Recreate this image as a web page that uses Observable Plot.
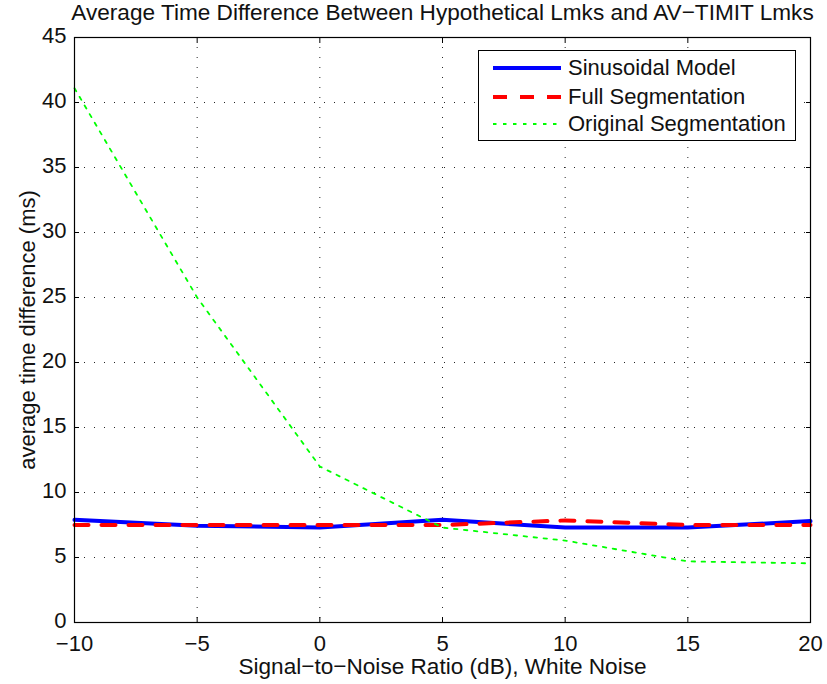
<!DOCTYPE html>
<html><head><meta charset="utf-8">
<script src="https://cdn.jsdelivr.net/npm/d3@7"></script>
<script src="https://cdn.jsdelivr.net/npm/@observablehq/plot@0.6"></script>
<style>
body{margin:0;background:#fff;}
#wrap{position:relative;width:827px;height:684px;font-family:"Liberation Sans",Arial,Helvetica,sans-serif;}
#legend{position:absolute;left:478px;top:50px;width:316px;height:89px;border:1px solid #000;background:#fff;font-size:22px;color:#111;}
#legend .row{position:absolute;left:0;height:26px;display:flex;align-items:center;}
#legend svg{display:block;}
#legend span{margin-left:7px;white-space:nowrap;}
</style></head><body><div id="wrap"></div>
<script>
const snr = [-10, -5, 0, 5, 10, 15, 20];
const sinusoidal = [7.9, 7.45, 7.3, 7.9, 7.3, 7.3, 7.8];
const fullSeg = [7.5, 7.5, 7.5, 7.5, 7.85, 7.5, 7.5];
const origSeg = [41.1, 25.0, 12.0, 7.3, 6.3, 4.7, 4.55];
const xTicks = [-10, -5, 0, 5, 10, 15, 20];
const yTicks = [0, 5, 10, 15, 20, 25, 30, 35, 40, 45];
const seriesNames = ["Sinusoidal Model", "Full Segmentation", "Original Segmentation"];
const seriesColors = ["#0000ff", "#ff0000", "#00ff00"];
const seriesWidths = [4, 4, 1.8];
const seriesDash = [null, "14,13", "3.5,6.5"];
const titleText = "Average Time Difference Between Hypothetical Lmks and AV\u2212TIMIT Lmks";
const xLabel = "Signal\u2212to\u2212Noise Ratio (dB), White Noise";
const yLabel = "average time difference (ms)";

const seriesValues = [sinusoidal, fullSeg, origSeg];
const FS = 22;

const lineMarks = seriesValues.map((vals, k) =>
  Plot.line(snr.map((x, i) => ({x, y: vals[i]})), {
    x: "x", y: "y", stroke: seriesColors[k], strokeWidth: seriesWidths[k],
    strokeDasharray: seriesDash[k], strokeLinejoin: "round"
  })
);

const plot = Plot.plot({
  width: 827, height: 684,
  marginLeft: 74, marginRight: 17, marginTop: 37, marginBottom: 62,
  style: {fontFamily: '"Liberation Sans", Arial, Helvetica, sans-serif', background: "#fff", color: "#000"},
  x: {domain: [-10, 20], ticks: xTicks},
  y: {domain: [0, 45], ticks: yTicks},
  marks: [
    Plot.gridX(xTicks, {stroke: "#000", strokeOpacity: 0.85, strokeDasharray: "1,9"}),
    Plot.gridY(yTicks, {stroke: "#000", strokeOpacity: 0.85, strokeDasharray: "1,9"}),
    // inward ticks on all four sides
    Plot.axisX(xTicks, {anchor: "bottom", tickSize: 5, dy: -5, tickFormat: () => "", label: null}),
    Plot.axisX(xTicks, {anchor: "top", tickSize: 5, dy: 5, tickFormat: () => "", label: null}),
    Plot.axisY(yTicks, {anchor: "left", tickSize: 5, dx: 5, tickFormat: () => "", label: null}),
    Plot.axisY(yTicks, {anchor: "right", tickSize: 5, dx: -5, tickFormat: () => "", label: null}),
    // tick labels
    Plot.axisX(xTicks, {anchor: "bottom", tickSize: 0, tickPadding: 13, fontSize: FS, label: null, fill: "#111"}),
    Plot.axisY(yTicks, {anchor: "left", tickSize: 0, tickPadding: 8, dy: -2, fontSize: FS, label: null, fill: "#111"}),
    ...lineMarks,
    Plot.frame({stroke: "#000", strokeWidth: 1.2}),
    Plot.text([titleText], {text: d => d, frameAnchor: "top", lineAnchor: "middle", dy: -25, fontSize: 22.6, fill: "#111"}),
    Plot.text([xLabel], {text: d => d, frameAnchor: "bottom", lineAnchor: "middle", dy: 44, fontSize: 22.6, fill: "#111"}),
    Plot.text([yLabel], {text: d => d, frameAnchor: "left", textAnchor: "middle", lineAnchor: "middle", dx: -47, rotate: -90, fontSize: FS, fill: "#111"})
  ]
});

const wrap = document.getElementById("wrap");
wrap.appendChild(plot);

const legend = document.createElement("div");
legend.id = "legend";
const rowTops = [4, 33, 60];
seriesNames.forEach((name, k) => {
  const row = document.createElement("div");
  row.className = "row";
  row.style.top = rowTops[k] + "px";
  const ns = "http://www.w3.org/2000/svg";
  const svg = document.createElementNS(ns, "svg");
  svg.setAttribute("width", 82); svg.setAttribute("height", 26);
  const ln = document.createElementNS(ns, "line");
  ln.setAttribute("x1", 14); ln.setAttribute("x2", 82);
  ln.setAttribute("y1", 13); ln.setAttribute("y2", 13);
  ln.setAttribute("stroke", seriesColors[k]);
  ln.setAttribute("stroke-width", seriesWidths[k]);
  if (seriesDash[k]) ln.setAttribute("stroke-dasharray", seriesDash[k]);
  svg.appendChild(ln);
  row.appendChild(svg);
  const sp = document.createElement("span");
  sp.textContent = name;
  row.appendChild(sp);
  legend.appendChild(row);
});
wrap.appendChild(legend);
</script>
</body></html>
